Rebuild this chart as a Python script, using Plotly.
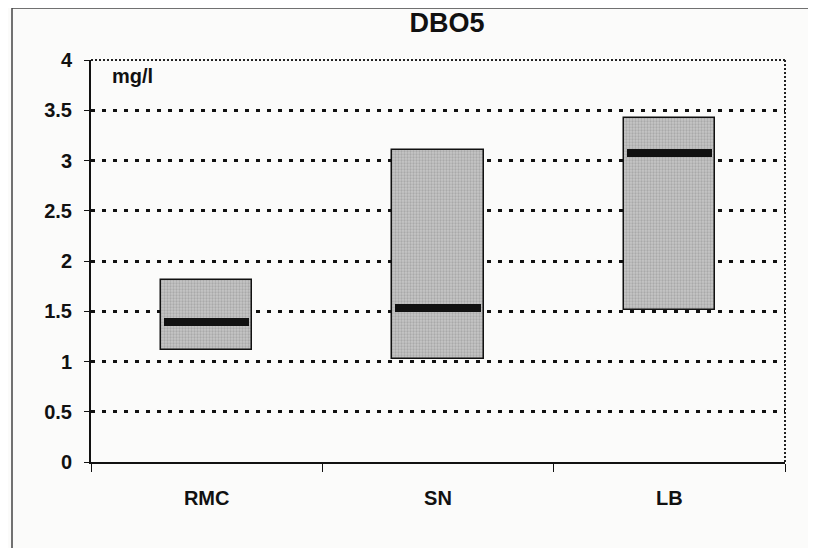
import plotly.graph_objects as go

# ---- data ----
stations = ["RMC", "SN", "LB"]
low_vals = [1.11, 1.02, 1.51]
high_vals = [1.81, 3.10, 3.42]
median_vals = [1.39, 1.53, 3.07]
y_ticks = [0, 0.5, 1, 1.5, 2, 2.5, 3, 3.5, 4]
y_tick_text = ["0", "0.5", "1", "1.5", "2", "2.5", "3", "3.5", "4"]

# ---- style ----
FONT = "Liberation Sans, Arial, sans-serif"
MED_H = 0.08  # thickness of median line in data units
BOX_W = 0.395
W, H = 808, 540          # page body adds an 8px offset
PL, PR, PT, PB = 83, 31, 52, 86
PW, PH = W - PL - PR, H - PT - PB

fig = go.Figure()

fig.add_trace(go.Bar(
    x=stations,
    y=[h - l for h, l in zip(high_vals, low_vals)],
    base=low_vals,
    width=BOX_W,
    marker=dict(color="#b4b4b4", line=dict(color="#111111", width=1.5),
                pattern=dict(shape=".", fgcolor="#8c8c8c", bgcolor="#c6c6c6", size=3, solidity=0.45)),
    showlegend=False,
    hoverinfo="skip",
))
fig.add_trace(go.Bar(
    x=stations,
    y=[MED_H] * len(median_vals),
    base=[m - MED_H / 2 for m in median_vals],
    width=BOX_W - 0.025,
    marker=dict(color="#111111", line=dict(width=0)),
    showlegend=False,
    hoverinfo="skip",
))

fig.update_layout(
    width=W, height=H,
    margin=dict(l=PL, r=PR, t=PT, b=PB),
    paper_bgcolor="#fbfbfa",
    plot_bgcolor="rgba(0,0,0,0)",
    barmode="overlay",
    bargap=0,
    font=dict(family=FONT, size=20, color="#111111"),
    title=dict(text="<b>DBO5</b>", x=(447 - 8) / W, xref="container", xanchor="center",
               y=1 - 15 / H, yref="container", yanchor="middle",
               font=dict(family=FONT, size=27, color="#111111")),
    xaxis=dict(
        type="category", categoryarray=stations, range=[-0.5, 2.5],
        showline=True, linecolor="#111111", linewidth=2,
        ticks="outside", tickson="boundaries", ticklen=8, tickcolor="#111111", tickwidth=1,
        ticklabelstandoff=17,
        tickfont=dict(family=FONT, size=20, color="#111111", weight="bold"),
        showgrid=False, zeroline=False,
    ),
    yaxis=dict(
        range=[0, 4], tickvals=y_ticks, ticktext=y_tick_text,
        showline=True, linecolor="#111111", linewidth=2,
        ticks="outside", ticklen=5, tickcolor="#111111", tickwidth=1,
        ticklabelstandoff=8,
        tickfont=dict(family=FONT, size=20, color="#111111", weight="bold"),
        showgrid=True, gridcolor="#111111", gridwidth=3, griddash="4px,7px",
        zeroline=False,
    ),
    shapes=[
        # dotted plot-area border (top/right)
        dict(type="line", xref="paper", yref="paper", x0=0, x1=1, y0=1, y1=1,
             line=dict(color="#222222", width=2, dash="2px,2px"), layer="below"),
        dict(type="line", xref="paper", yref="paper", x0=1, x1=1, y0=0, y1=1,
             line=dict(color="#222222", width=2, dash="2px,2px"), layer="below"),
        # outer chart frame
        dict(type="rect", xref="paper", yref="paper",
             x0=(4 - PL) / PW, x1=(806 - PL) / PW,
             y0=(PT + PH - 600) / PH, y1=(PT + PH - 0) / PH,
             line=dict(color="#444444", width=1.5), layer="below"),
    ],
    annotations=[
        dict(text="<b>mg/l</b>", xref="paper", yref="paper",
             x=(110 - 91) / PW, y=(462 - 76) / PH, xanchor="left", yanchor="middle",
             showarrow=False, font=dict(family=FONT, size=20, color="#111111")),
    ],
)

fig.write_html("out.html")
